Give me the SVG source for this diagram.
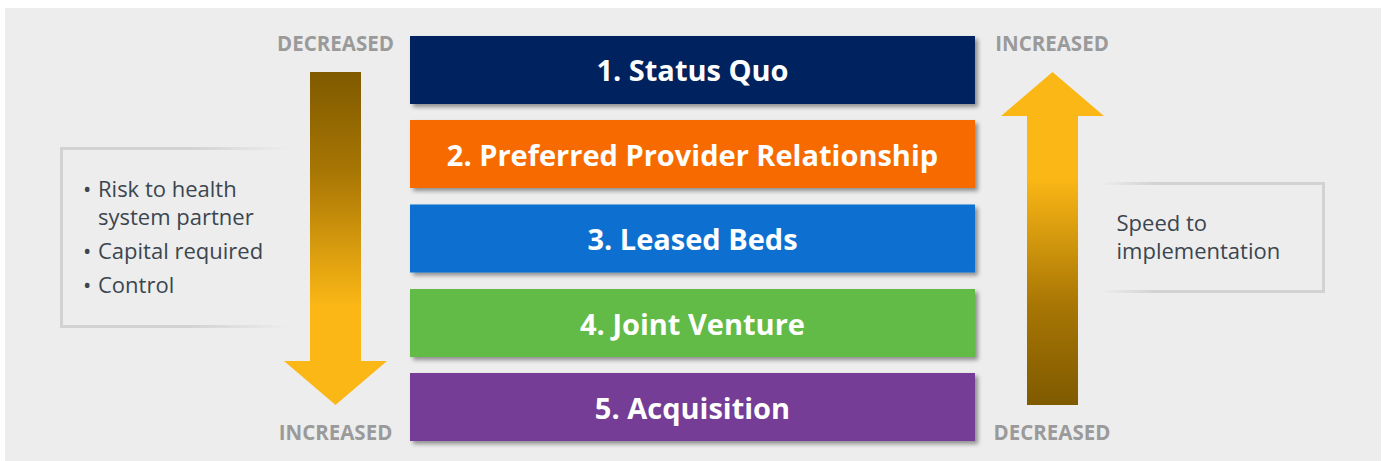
<svg xmlns="http://www.w3.org/2000/svg" width="1382" height="461" viewBox="0 0 1382 461">
  <defs>
    <style>
      .bar-label { font-family: "Open Sans", "Liberation Sans", sans-serif; font-weight: 700; font-size: 29px; fill: #ffffff; text-anchor: middle; }
      .scale-label { font-family: "Open Sans", "Liberation Sans", sans-serif; font-weight: 700; font-size: 20.5px; fill: #9a9a9a; text-anchor: middle; }
      .note { font-family: "Open Sans", "Liberation Sans", sans-serif; font-size: 22px; fill: #3b4650; }
      .bar { filter: url(#shadow); }
    </style>
    <filter id="shadow" x="-5%" y="-20%" width="110%" height="150%">
      <feDropShadow dx="3" dy="3" stdDeviation="2" flood-color="#000000" flood-opacity="0.4"/>
    </filter>
    <linearGradient id="downFill" x1="0" y1="0" x2="0" y2="1">
      <stop offset="0" stop-color="#7f5a00"/>
      <stop offset="0.3" stop-color="#a87604"/>
      <stop offset="0.7" stop-color="#fbb716"/>
      <stop offset="1" stop-color="#fbb716"/>
    </linearGradient>
    <linearGradient id="upFill" x1="0" y1="0" x2="0" y2="1">
      <stop offset="0" stop-color="#fbb716"/>
      <stop offset="0.32" stop-color="#fbb716"/>
      <stop offset="0.7" stop-color="#a87604"/>
      <stop offset="1" stop-color="#7f5a00"/>
    </linearGradient>
    <linearGradient id="leftFrame" gradientUnits="userSpaceOnUse" x1="60" y1="0" x2="290" y2="0">
      <stop offset="0" stop-color="#d2d2d2"/>
      <stop offset="0.55" stop-color="#d2d2d2"/>
      <stop offset="1" stop-color="#d2d2d2" stop-opacity="0"/>
    </linearGradient>
    <linearGradient id="rightFrame" gradientUnits="userSpaceOnUse" x1="1100" y1="0" x2="1325" y2="0">
      <stop offset="0" stop-color="#d2d2d2" stop-opacity="0"/>
      <stop offset="0.25" stop-color="#d2d2d2"/>
      <stop offset="1" stop-color="#d2d2d2"/>
    </linearGradient>
  </defs>

  <!-- panel background -->
  <rect x="5" y="8" width="1376" height="453" fill="#ededed"/>

  <!-- option bars -->
  <g id="status-quo">
    <rect class="bar" x="410" y="36" width="565" height="68" fill="#00205f"/>
    <text class="bar-label" x="692.5" y="80.5">1. Status Quo</text>
  </g>
  <g id="preferred-provider">
    <rect class="bar" x="410" y="120" width="565" height="68" fill="#f76a00"/>
    <text class="bar-label" x="692.5" y="165.5">2. Preferred Provider Relationship</text>
  </g>
  <g id="leased-beds">
    <rect class="bar" x="410" y="204.5" width="565" height="68" fill="#0a6fd0"/>
    <text class="bar-label" x="692.5" y="250">3. Leased Beds</text>
  </g>
  <g id="joint-venture">
    <rect class="bar" x="410" y="289" width="565" height="68" fill="#62ba47"/>
    <text class="bar-label" x="692.5" y="334.5">4. Joint Venture</text>
  </g>
  <g id="acquisition">
    <rect class="bar" x="410" y="373" width="565" height="68" fill="#743c95"/>
    <text class="bar-label" x="692.5" y="418.5">5. Acquisition</text>
  </g>

  <!-- scale arrows -->
  <g id="connectors">
    <path id="arrow-down" d="M310,72 H361 V361 H387 L335.5,405 L284,361 H310 Z" fill="url(#downFill)"/>
    <path id="arrow-up" d="M1052.5,72 L1104,116 H1078 V405 H1027 V116 H1001 Z" fill="url(#upFill)"/>
  </g>

  <!-- scale ends -->
  <g id="left-scale-labels">
    <text class="scale-label" x="335.5" y="51">DECREASED</text>
    <text class="scale-label" x="335.5" y="439.5">INCREASED</text>
  </g>
  <g id="right-scale-labels">
    <text class="scale-label" x="1052" y="51">INCREASED</text>
    <text class="scale-label" x="1052" y="439.5">DECREASED</text>
  </g>

  <!-- left note -->
  <g id="risk-note">
    <path d="M290,148.5 H61.5 V326.5 H290" fill="none" stroke="url(#leftFrame)" stroke-width="3"/>
    <text class="note" x="83" y="196.5">•</text>
    <text class="note" x="98" y="196.5">Risk to health</text>
    <text class="note" x="98" y="225">system partner</text>
    <text class="note" x="83" y="259">•</text>
    <text class="note" x="98" y="259">Capital required</text>
    <text class="note" x="83" y="292.5">•</text>
    <text class="note" x="98" y="292.5">Control</text>
  </g>

  <!-- right note -->
  <g id="speed-note">
    <path d="M1100,183.5 H1323.5 V291.5 H1100" fill="none" stroke="url(#rightFrame)" stroke-width="3"/>
    <text class="note" x="1116.5" y="231">Speed to</text>
    <text class="note" x="1116.5" y="258.5">implementation</text>
  </g>
</svg>
